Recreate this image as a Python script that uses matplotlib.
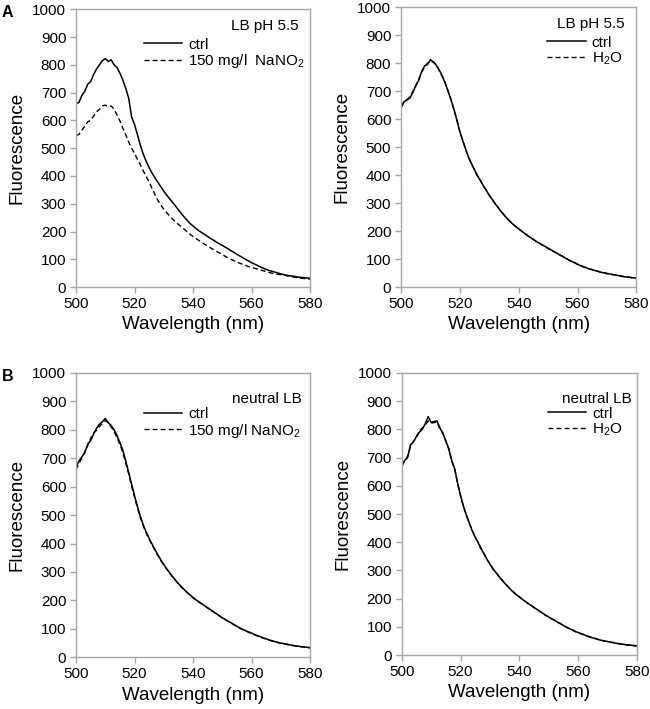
import matplotlib.pyplot as plt
import numpy as np

plt.rcParams['font.family'] = ['Liberation Sans', 'DejaVu Sans']
plt.rcParams['mathtext.fontset'] = 'custom'
plt.rcParams['mathtext.rm'] = 'Liberation Sans'
plt.rcParams['mathtext.it'] = 'Liberation Sans:italic'

wavelength = np.arange(500, 581)

# panel A, left: LB pH 5.5, ctrl vs 150 mg/l NaNO2
a_ctrl = [660, 665, 690, 705, 730, 740, 765, 785, 800, 815, 822, 812, 818, 800, 790, 770, 745, 715, 680, 612,
          585, 548, 510, 478, 452, 430, 410, 393, 377, 361, 345, 331, 318, 305, 292, 278, 265, 252, 240, 229,
          220, 211, 203, 196, 189, 182, 175, 169, 162, 156, 150, 144, 138, 131, 125, 118, 112, 106, 100, 94,
          88, 83, 78, 73, 68, 64, 60, 57, 54, 51, 48, 45, 43, 41, 40, 38, 36, 35, 34, 33, 32]
a_nano2 = [545, 550, 565, 580, 595, 600, 615, 630, 640, 652, 655, 650, 652, 640, 620, 598, 572, 548, 522, 500,
           480, 460, 440, 418, 398, 378, 355, 333, 312, 295, 280, 268, 256, 245, 235, 226, 217, 208, 199, 190,
           182, 175, 168, 161, 154, 148, 141, 135, 129, 123, 117, 111, 105, 100, 95, 90, 86, 82, 78, 74,
           71, 68, 65, 62, 59, 56, 53, 50, 48, 46, 45, 43, 41, 39, 37, 35, 34, 32, 31, 30, 29]

# panel A, right: LB pH 5.5, ctrl vs H2O
ar_ctrl = [640, 662, 668, 675, 695, 720, 738, 770, 790, 795, 812, 805, 792, 775, 755, 728, 700, 668, 635, 595,
           555, 522, 492, 462, 440, 418, 398, 380, 362, 345, 328, 313, 298, 284, 270, 258, 246, 235, 225, 216,
           208, 200, 192, 184, 177, 170, 163, 157, 151, 145, 139, 133, 127, 121, 115, 109, 103, 97, 92, 87,
           82, 77, 73, 69, 65, 62, 59, 56, 53, 51, 49, 47, 45, 43, 41, 39, 37, 36, 35, 33, 32]
ar_h2o = [645, 660, 670, 680, 698, 718, 742, 768, 785, 800, 808, 802, 795, 772, 752, 730, 698, 670, 632, 597,
          553, 524, 490, 464, 438, 419, 396, 381, 360, 346, 327, 314, 297, 285, 269, 259, 245, 236, 224, 217,
          207, 201, 191, 185, 176, 171, 162, 158, 150, 146, 138, 134, 126, 122, 114, 110, 102, 98, 91, 88,
          81, 78, 72, 70, 64, 63, 58, 57, 52, 52, 48, 48, 44, 44, 40, 40, 36, 37, 34, 34, 31]

# panel B, left: neutral LB, ctrl vs 150 mg/l NaNO2
b_ctrl = [670, 690, 705, 720, 750, 762, 785, 805, 820, 828, 840, 825, 815, 800, 780, 755, 728, 690, 650, 608,
          568, 530, 495, 465, 440, 418, 398, 378, 360, 342, 326, 311, 297, 284, 271, 259, 248, 238, 228, 219,
          210, 202, 195, 188, 181, 174, 167, 160, 153, 146, 139, 133, 127, 121, 115, 109, 103, 98, 93, 89,
          85, 80, 76, 72, 68, 65, 61, 58, 55, 52, 50, 48, 46, 44, 42, 40, 39, 37, 36, 35, 34]
b_nano2 = [660, 682, 700, 722, 745, 770, 790, 798, 812, 822, 832, 826, 810, 795, 772, 748, 720, 682, 645, 602,
           562, 525, 490, 462, 436, 415, 394, 376, 357, 340, 323, 310, 295, 283, 270, 258, 247, 237, 227, 218,
           209, 201, 194, 187, 180, 173, 166, 159, 152, 145, 138, 132, 126, 120, 114, 108, 102, 97, 92, 88,
           84, 79, 75, 71, 67, 64, 60, 57, 54, 52, 49, 47, 45, 43, 41, 40, 38, 37, 36, 34, 33]

# panel B, right: neutral LB, ctrl vs H2O
br_ctrl = [668, 690, 700, 745, 755, 775, 790, 800, 820, 845, 825, 828, 830, 805, 785, 760, 730, 690, 660, 610,
           565, 528, 495, 468, 440, 418, 398, 378, 358, 340, 322, 307, 293, 280, 267, 255, 244, 233, 223, 214,
           206, 198, 190, 183, 176, 169, 162, 155, 148, 141, 135, 129, 123, 117, 111, 105, 99, 94, 89, 84,
           80, 76, 72, 68, 64, 61, 58, 55, 52, 50, 48, 46, 44, 42, 40, 39, 37, 36, 35, 34, 33]
br_h2o = [672, 688, 705, 740, 758, 772, 795, 805, 815, 830, 822, 824, 826, 802, 788, 757, 733, 688, 662, 607,
          567, 526, 497, 466, 442, 416, 400, 376, 360, 338, 324, 305, 295, 278, 268, 254, 245, 232, 224, 213,
          207, 197, 191, 182, 177, 168, 163, 154, 149, 140, 136, 128, 124, 116, 112, 104, 100, 93, 90, 83,
          81, 75, 73, 67, 65, 60, 59, 54, 53, 49, 49, 45, 45, 41, 41, 38, 38, 35, 36, 33, 33]

panels = [
    # axes rect, ctrl, treated, treated label, condition, text pos, legend anchor, letter
    ([0.117, 0.595, 0.360, 0.392], a_ctrl, a_nano2, '150 mg/l  NaNO$_2$', 'LB pH 5.5', (0.951, 0.939), (0.978, 0.898), 'A'),
    ([0.617, 0.595, 0.362, 0.395], ar_ctrl, ar_h2o, 'H$_2$O', 'LB pH 5.5', (0.951, 0.939), (0.940, 0.898), None),
    ([0.117, 0.073, 0.360, 0.401], b_ctrl, b_nano2, '150 mg/l NaNO$_2$', 'neutral LB', (0.966, 0.908), (0.960, 0.880), 'B'),
    ([0.618, 0.076, 0.362, 0.398], br_ctrl, br_h2o, 'H$_2$O', 'neutral LB', (0.979, 0.908), (0.940, 0.880), None),
]

fig = plt.figure(figsize=(6.5, 7.09), dpi=100)

for rect, ctrl, treat, treat_label, cond, tpos, lpos, letter in panels:
    ax = fig.add_axes(rect)
    ax.plot(wavelength, ctrl, color='black', lw=1.1, label='ctrl')
    ax.plot(wavelength, treat, color='black', lw=1.0, ls=(0, (3.6, 2.2)), label=treat_label)
    ax.set_xlim(500, 580)
    ax.set_ylim(0, 1000)
    ax.set_xticks(np.arange(500, 581, 20))
    ax.set_yticks(np.arange(0, 1001, 100))
    for s in ax.spines.values():
        s.set_color('#a6a6a6')
        s.set_linewidth(1.0)
    ax.tick_params(direction='out', length=4, width=1.0, color='#a6a6a6', labelsize=11, pad=3)
    ax.set_xlabel('Wavelength (nm)', fontsize=13.5, labelpad=4)
    ax.set_ylabel('Fluorescence', fontsize=13.5, labelpad=5)
    ax.text(tpos[0], tpos[1], cond, transform=ax.transAxes, ha='right', va='center', fontsize=11)
    ax.legend(loc='upper right', bbox_to_anchor=lpos, frameon=False, fontsize=11,
              handlelength=2.5, handletextpad=0.4, labelspacing=0.05, borderpad=0, borderaxespad=0)
    if letter:
        fig.text(0.003, rect[1] + rect[3] + 0.006, letter, fontsize=11.5, fontweight='bold', va='top', ha='left')

fig.savefig('out.png', dpi=100)
